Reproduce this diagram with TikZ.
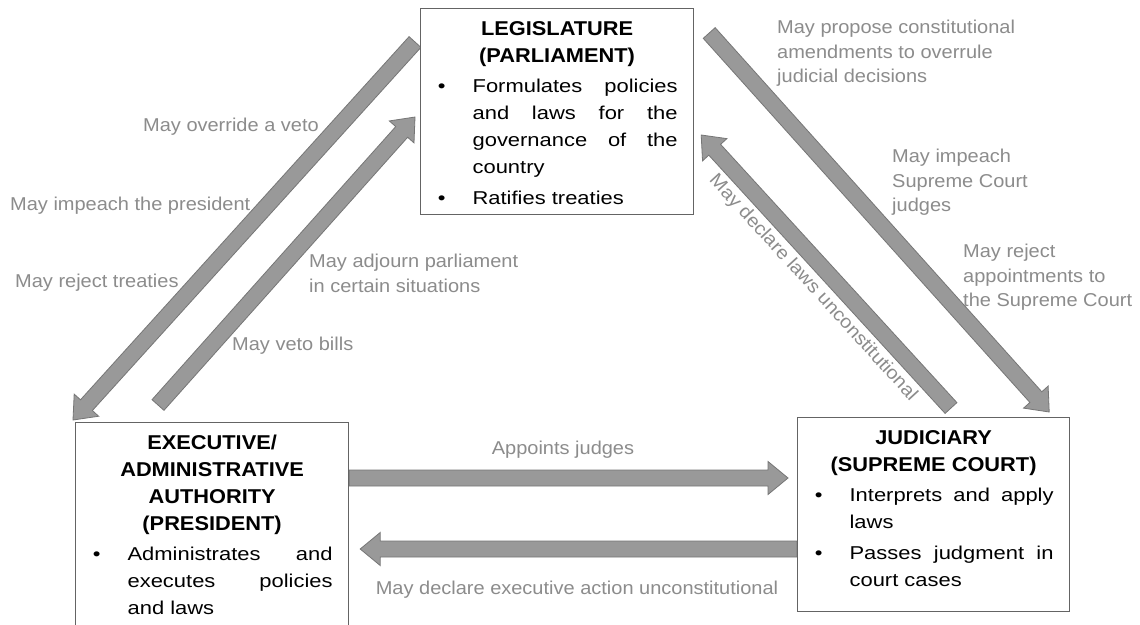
\documentclass[tikz,border=0pt]{standalone}
\usepackage{fontspec}
\setmainfont{Liberation Sans}
\newfontfamily\bodyfam[FakeStretch=1.18]{Liberation Sans}
\newfontfamily\headfam[FakeStretch=1.09]{Liberation Sans}
\newfontfamily\lblfam[FakeStretch=1.075]{Liberation Sans}
\usetikzlibrary{calc,backgrounds}
\pgfdeclarelayer{back}
\pgfsetlayers{back,background,main}
\definecolor{lblgray}{RGB}{140,140,140}
\definecolor{arrfill}{RGB}{153,153,153}
\definecolor{arrline}{RGB}{118,118,118}
\definecolor{boxline}{RGB}{100,100,100}

\newcommand{\hd}[1]{{\centering\headfam\bfseries\fontsize{20pt}{27pt}\selectfont\rule{0pt}{27pt}#1\par}\vspace{3pt}}
\newcommand{\itm}[2][0pt]{{\bodyfam\fontsize{18.6pt}{27pt}\selectfont\hyphenpenalty=10000 \exhyphenpenalty=10000 \leftskip=52pt\rightskip=16pt\noindent\llap{\textbullet\hspace{27pt}}#2\rule[-#1]{0pt}{#1}\par}}
\newcommand{\fl}{\rule{0pt}{15pt}}
% fat arrow from #1 to #2 (named coordinates)
\newcommand{\fatarrow}[2]{%
  \path ($(#2)!20pt!(#1)$) coordinate (tmpc);
  \draw[fatarr] ($(#1)!8pt!90:(#2)$) -- ($(tmpc)!8pt!-90:(#1)$) -- ($(tmpc)!16.5pt!-90:(#1)$) -- (#2)
     -- ($(tmpc)!16.5pt!90:(#1)$) -- ($(tmpc)!8pt!90:(#1)$) -- ($(#1)!8pt!-90:(#2)$) -- cycle;}

\begin{document}
\begin{tikzpicture}[x=1pt,y=-1pt,
  boxnode/.style={draw=boxline,line width=1.2pt,fill=white,inner sep=0pt},
  fatarr/.style={fill=arrfill,draw=arrline,line width=0.8pt,line join=miter},
  lbl/.style={font=\lblfam\fontsize{18.6pt}{24.8pt}\selectfont,text=lblgray,inner sep=0pt,align=left}]
\useasboundingbox (0,0) rectangle (1140,624);
\clip (0,0) rectangle (1140,624);
\begin{pgfonlayer}{back}
\fill[white] (0,0) rectangle (1140,624);
\end{pgfonlayer}

% boxes
\node[boxnode,anchor=north west] (leg) at (420,8) {\begin{minipage}{273pt}%
\hd{LEGISLATURE\\(PARLIAMENT)}%
\itm{Formulates policies\linebreak and laws for the\linebreak governance of the\linebreak country}%
\vspace{3.5pt}%
\itm[10pt]{Ratifies treaties}%
\end{minipage}};

\node[boxnode,anchor=north west] (exe) at (75,422) {\begin{minipage}{273pt}%
\hd{EXECUTIVE/\\ADMINISTRATIVE\\AUTHORITY\\(PRESIDENT)}%
\itm[40pt]{Administrates and\linebreak executes policies\linebreak and laws}%
\end{minipage}};

\node[boxnode,anchor=north west] (jud) at (797,417) {\begin{minipage}{272pt}%
\hd{JUDICIARY\\(SUPREME COURT)}%
\itm{Interprets and apply\linebreak laws}%
\vspace{3.5pt}%
\itm[25pt]{Passes judgment in\linebreak court cases}%
\end{minipage}};

% arrow end points
\coordinate (a1s) at ($(leg.north west)+(-5,34)$);
\coordinate (a1e) at ($(exe.north west)+(-2,-2)$);
\coordinate (a2s) at ($(exe.north west)+(83,-17)$);
\coordinate (a2e) at ($(leg.north west)+(-5,109)$);
\coordinate (a3s) at ($(leg.north east)+(15,25)$);
\coordinate (a3e) at ($(jud.north east)+(-21,-5)$);
\coordinate (a4s) at ($(jud.north west)+(154,-9)$);
\coordinate (a4e) at ($(leg.north east)+(7,127)$);
\coordinate (a5s) at ($(exe.north east)+(0,56)$);
\coordinate (a5e) at ($(jud.north west)+(-9,61)$);
\coordinate (a6s) at ($(jud.north west)+(0,132)$);
\coordinate (a6e) at ($(exe.north east)+(11,127)$);

\begin{pgfonlayer}{background}
\fatarrow{a1s}{a1e}
\fatarrow{a2s}{a2e}
\fatarrow{a3s}{a3e}
\fatarrow{a4s}{a4e}
\fatarrow{a5s}{a5e}
\fatarrow{a6s}{a6e}
\end{pgfonlayer}

% labels
\node[lbl,anchor=base west] (l1) at (143,131) {May override a veto};
\node[lbl,anchor=base west] (l2) at (10,210) {May impeach the president};
\node[lbl,anchor=base west] (l3) at (15,287) {May reject treaties};
\node[lbl,anchor=north west] (l4) at (309,252) {\fl May adjourn parliament\\in certain situations};
\node[lbl,anchor=base west] (l5) at (232,350) {May veto bills};
\node[lbl,anchor=north west] (l6) at (777,18) {\fl May propose constitutional\\amendments to overrule\\judicial decisions};
\node[lbl,anchor=north west] (l7) at (892,147) {\fl May impeach\\Supreme Court\\judges};
\node[lbl,anchor=north west] (l8) at (963,242) {\fl May reject\\appointments to\\the Supreme Court};
\node[lbl,rotate=-47.6] (l9) at (813,288) {May declare laws unconstitutional};
\node[lbl,anchor=base] (l10) at (563,454) {Appoints judges};
\node[lbl,anchor=base] (l11) at (577,594) {May declare executive action unconstitutional};
\end{tikzpicture}
\end{document}
